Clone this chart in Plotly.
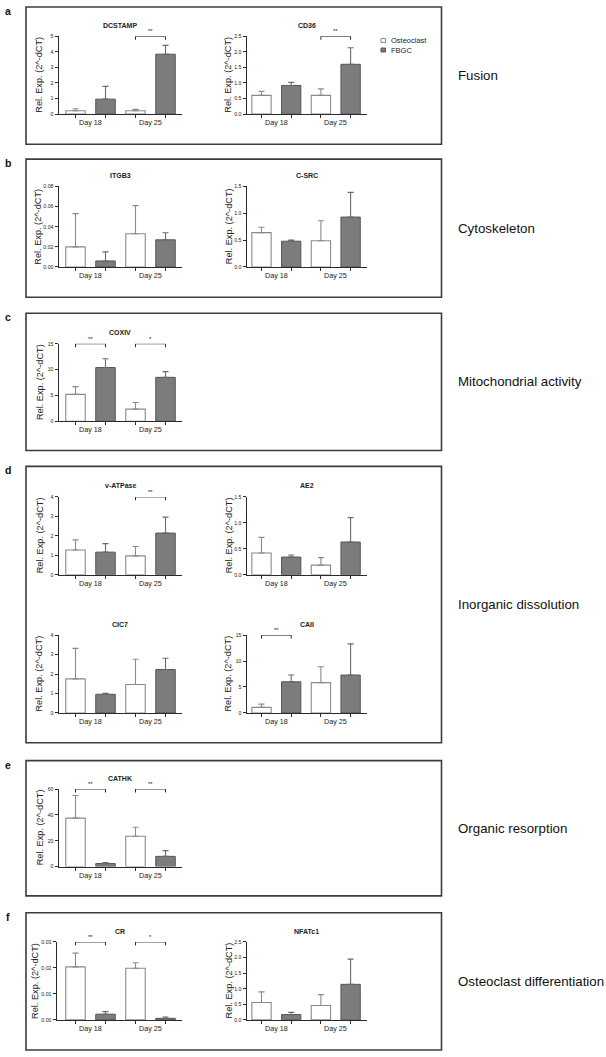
import plotly.graph_objects as go

W, H = 606, 1057
FONT = "Liberation Sans, Arial, sans-serif"

# ---------------- data ----------------
days = ["Day 18", "Day 25"]
groups = ["Osteoclast", "FBGC"]

dcstamp_osteo = [0.21, 0.21]
dcstamp_osteo_sd = [0.13, 0.09]
dcstamp_fbgc = [0.96, 3.85]
dcstamp_fbgc_sd = [0.82, 0.57]
dcstamp_ticks = [0, 1, 2, 3, 4, 5]
dcstamp_sig = ["", "**"]

cd36_osteo = [0.60, 0.60]
cd36_osteo_sd = [0.13, 0.21]
cd36_fbgc = [0.92, 1.60]
cd36_fbgc_sd = [0.10, 0.53]
cd36_ticks = [0.0, 0.5, 1.0, 1.5, 2.0, 2.5]
cd36_sig = ["", "**"]

itgb3_osteo = [0.020, 0.033]
itgb3_osteo_sd = [0.033, 0.028]
itgb3_fbgc = [0.006, 0.027]
itgb3_fbgc_sd = [0.009, 0.007]
itgb3_ticks = [0.00, 0.02, 0.04, 0.06, 0.08]
itgb3_sig = ["", ""]

csrc_osteo = [0.64, 0.49]
csrc_osteo_sd = [0.10, 0.37]
csrc_fbgc = [0.48, 0.93]
csrc_fbgc_sd = [0.02, 0.46]
csrc_ticks = [0.0, 0.5, 1.0, 1.5]
csrc_sig = ["", ""]

coxiv_osteo = [5.2, 2.35]
coxiv_osteo_sd = [1.5, 1.3]
coxiv_fbgc = [10.4, 8.5]
coxiv_fbgc_sd = [1.7, 1.1]
coxiv_ticks = [0, 5, 10, 15]
coxiv_sig = ["**", "*"]

vatpase_osteo = [1.27, 0.97]
vatpase_osteo_sd = [0.52, 0.48]
vatpase_fbgc = [1.16, 2.14]
vatpase_fbgc_sd = [0.44, 0.82]
vatpase_ticks = [0, 1, 2, 3, 4]
vatpase_sig = ["", "**"]

ae2_osteo = [0.42, 0.185]
ae2_osteo_sd = [0.30, 0.145]
ae2_fbgc = [0.34, 0.63]
ae2_fbgc_sd = [0.04, 0.47]
ae2_ticks = [0.0, 0.5, 1.0, 1.5]
ae2_sig = ["", ""]

cic7_osteo = [1.75, 1.46]
cic7_osteo_sd = [1.57, 1.30]
cic7_fbgc = [0.96, 2.23]
cic7_fbgc_sd = [0.05, 0.58]
cic7_ticks = [0, 1, 2, 3, 4]
cic7_sig = ["", ""]

caii_osteo = [1.08, 5.85]
caii_osteo_sd = [0.62, 3.05]
caii_fbgc = [6.0, 7.3]
caii_fbgc_sd = [1.3, 6.0]
caii_ticks = [0, 5, 10, 15]
caii_sig = ["**", ""]

cathk_osteo = [37.5, 23.5]
cathk_osteo_sd = [17.5, 6.9]
cathk_fbgc = [2.3, 7.9]
cathk_fbgc_sd = [0.8, 4.4]
cathk_ticks = [0, 20, 40, 60]
cathk_sig = ["**", "**"]

cr_osteo = [0.0204, 0.0199]
cr_osteo_sd = [0.0053, 0.0021]
cr_fbgc = [0.0022, 0.0006]
cr_fbgc_sd = [0.0010, 0.0005]
cr_ticks = [0.00, 0.01, 0.02, 0.03]
cr_sig = ["**", "*"]

nfatc1_osteo = [0.56, 0.46]
nfatc1_osteo_sd = [0.34, 0.35]
nfatc1_fbgc = [0.17, 1.14]
nfatc1_fbgc_sd = [0.07, 0.81]
nfatc1_ticks = [0.0, 0.5, 1.0, 1.5, 2.0, 2.5]
nfatc1_sig = ["", ""]

panel_letters = ["a", "b", "c", "d", "e", "f"]
panel_names = ["Fusion", "Cytoskeleton", "Mitochondrial activity",
               "Inorganic dissolution", "Organic resorption",
               "Osteoclast differentiation"]

# ---------------- layout (pixels) ----------------
panel_frames = [(4, 142), (157, 296), (312, 450), (466, 744), (762, 898), (915, 1053)]
FRAME_X = (26, 441.5)

charts = [
    dict(title="DCSTAMP", o=dcstamp_osteo, osd=dcstamp_osteo_sd, f=dcstamp_fbgc, fsd=dcstamp_fbgc_sd,
         ticks=dcstamp_ticks, fmt="{:.0f}", sig=dcstamp_sig, col="L", top=33.5, zero=111.7),
    dict(title="CD36", o=cd36_osteo, osd=cd36_osteo_sd, f=cd36_fbgc, fsd=cd36_fbgc_sd,
         ticks=cd36_ticks, fmt="{:.1f}", sig=cd36_sig, col="R", top=33.5, zero=111.7),
    dict(title="ITGB3", o=itgb3_osteo, osd=itgb3_osteo_sd, f=itgb3_fbgc, fsd=itgb3_fbgc_sd,
         ticks=itgb3_ticks, fmt="{:.2f}", sig=itgb3_sig, col="L", top=184.5, zero=265.5,
         ytitle_x=38.0),
    dict(title="C-SRC", o=csrc_osteo, osd=csrc_osteo_sd, f=csrc_fbgc, fsd=csrc_fbgc_sd,
         ticks=csrc_ticks, fmt="{:.1f}", sig=csrc_sig, col="R", top=184.5, zero=265.5),
    dict(title="COXIV", o=coxiv_osteo, osd=coxiv_osteo_sd, f=coxiv_fbgc, fsd=coxiv_fbgc_sd,
         ticks=coxiv_ticks, fmt="{:.0f}", sig=coxiv_sig, col="L", top=342.7, zero=420.7),
    dict(title="v-ATPase", o=vatpase_osteo, osd=vatpase_osteo_sd, f=vatpase_fbgc, fsd=vatpase_fbgc_sd,
         ticks=vatpase_ticks, fmt="{:.0f}", sig=vatpase_sig, col="L", top=496.7, zero=575),
    dict(title="AE2", o=ae2_osteo, osd=ae2_osteo_sd, f=ae2_fbgc, fsd=ae2_fbgc_sd,
         ticks=ae2_ticks, fmt="{:.1f}", sig=ae2_sig, col="R", top=496.7, zero=575),
    dict(title="CIC7", o=cic7_osteo, osd=cic7_osteo_sd, f=cic7_fbgc, fsd=cic7_fbgc_sd,
         ticks=cic7_ticks, fmt="{:.0f}", sig=cic7_sig, col="L", top=635.7, zero=714),
    dict(title="CAII", o=caii_osteo, osd=caii_osteo_sd, f=caii_fbgc, fsd=caii_fbgc_sd,
         ticks=caii_ticks, fmt="{:.0f}", sig=caii_sig, col="R", top=635.7, zero=714),
    dict(title="CATHK", o=cathk_osteo, osd=cathk_osteo_sd, f=cathk_fbgc, fsd=cathk_fbgc_sd,
         ticks=cathk_ticks, fmt="{:.0f}", sig=cathk_sig, col="L", top=790.5, zero=868.5),
    dict(title="CR", o=cr_osteo, osd=cr_osteo_sd, f=cr_fbgc, fsd=cr_fbgc_sd,
         ticks=cr_ticks, fmt="{:.2f}", sig=cr_sig, col="L", top=944.3, zero=1022.7,
         ax0=56.5, ytitle_x=35.0),
    dict(title="NFATc1", o=nfatc1_osteo, osd=nfatc1_osteo_sd, f=nfatc1_fbgc, fsd=nfatc1_fbgc_sd,
         ticks=nfatc1_ticks, fmt="{:.1f}", sig=nfatc1_sig, col="R", top=944.3, zero=1022.7),
]

COLS = {
    "L": dict(ax0=58.5, ax1=181.5, c0=75.5, step=30.0, ytitle_x=39.5),
    "R": dict(ax0=246.5, ax1=367.0, c0=261.5, step=29.7, ytitle_x=228.5),
}

def fx(p):
    return p / W

def fy(p):
    return 1 - p / H

OST_LINE = "#8a8a8a"
FB_FILL = "#7c7c7c"
FB_LINE = "#555555"
AX = "#2b2b2b"

fig = go.Figure()
annotations = []
shapes = []
layout_axes = {}

for k, ch in enumerate(charts, start=1):
    col = COLS[ch["col"]]
    ax0 = ch.get("ax0", col["ax0"])
    ax1 = col["ax1"]
    lo = (ax0 - col["c0"]) / col["step"]
    hi = (ax1 - col["c0"]) / col["step"]
    ymax = ch["ticks"][-1]
    xs_o = [2 * i for i in range(len(days))]
    xs_f = [2 * i + 1 for i in range(len(days))]
    xa, ya = f"x{k}", f"y{k}"
    fig.add_trace(go.Bar(
        x=xs_o, y=ch["o"], width=0.65, name=groups[0], showlegend=False,
        marker=dict(color="white", line=dict(color=OST_LINE, width=1.1)),
        error_y=dict(type="data", symmetric=False, array=ch["osd"], arrayminus=[0] * len(days),
                     color=OST_LINE, thickness=1.1, width=3),
        xaxis=xa, yaxis=ya, hoverinfo="skip"))
    fig.add_trace(go.Bar(
        x=xs_f, y=ch["f"], width=0.65, name=groups[1], showlegend=False,
        marker=dict(color=FB_FILL, line=dict(color=FB_LINE, width=1)),
        error_y=dict(type="data", symmetric=False, array=ch["fsd"], arrayminus=[0] * len(days),
                     color="#6a6a6a", thickness=1.1, width=3),
        xaxis=xa, yaxis=ya, hoverinfo="skip"))

    sfx = "" if k == 1 else str(k)
    layout_axes[f"xaxis{sfx}"] = dict(
        domain=[fx(ax0), fx(ax1)], range=[lo, hi], anchor=ya,
        showline=True, linecolor=AX, linewidth=1, mirror=False,
        tickvals=xs_o + xs_f, ticks="outside", ticklen=3, tickcolor=AX, tickwidth=1,
        showticklabels=False, showgrid=False, zeroline=False, fixedrange=True)
    layout_axes[f"yaxis{sfx}"] = dict(
        domain=[fy(ch["zero"]), fy(ch["top"])], range=[0, ymax], anchor=xa,
        showline=True, linecolor=AX, linewidth=1,
        tickvals=ch["ticks"], ticktext=[ch["fmt"].format(t) for t in ch["ticks"]],
        ticks="outside", ticklen=3, tickcolor=AX, tickwidth=1,
        tickfont=dict(size=5.2, color="#222", family=FONT),
        showgrid=False, zeroline=False, fixedrange=True)

    plot_h = ch["zero"] - ch["top"]
    # title
    annotations.append(dict(text=f"<b>{ch['title']}</b>", xref="paper", yref="paper",
                            x=fx((col["ax0"] + ax1) / 2),
                            y=fy(ch["top"] - 11), showarrow=False,
                            font=dict(size=7, color="#222", family=FONT),
                            xanchor="center", yanchor="middle"))
    # y title
    annotations.append(dict(text="Rel. Exp. (2^-dCT)", xref="paper", yref="paper",
                            x=fx(ch.get("ytitle_x", col["ytitle_x"])),
                            y=fy((ch["top"] + ch["zero"]) / 2),
                            textangle=-90, showarrow=False,
                            font=dict(size=9.2, color="#222", family=FONT),
                            xanchor="center", yanchor="middle"))
    # day labels
    for i, d in enumerate(days):
        annotations.append(dict(text=d, xref=xa, yref="paper", x=2 * i + 0.5,
                                y=fy(ch["zero"] + 8.5), showarrow=False,
                                font=dict(size=7.2, color="#222", family=FONT),
                                xanchor="center", yanchor="middle"))
    # significance brackets
    for i, s in enumerate(ch["sig"]):
        if not s:
            continue
        yd = ymax - ymax * 3.5 / plot_h
        shapes.append(dict(type="path", xref=xa, yref=ya,
                           path=f"M {2*i},{yd} L {2*i},{ymax} L {2*i+1},{ymax} L {2*i+1},{yd}",
                           line=dict(color=AX, width=1)))
        annotations.append(dict(text=s, xref=xa, yref=ya, x=2 * i + 0.5, y=ymax,
                                yshift=5, showarrow=False,
                                font=dict(size=6, color="#222", family=FONT),
                                xanchor="center", yanchor="middle"))

# frames, letters, right-side labels
for (t, b), letter, name in zip(panel_frames, panel_letters, panel_names):
    shapes.append(dict(type="rect", xref="paper", yref="paper",
                       x0=fx(FRAME_X[0]), x1=fx(FRAME_X[1]), y0=fy(b), y1=fy(t),
                       line=dict(color="#3c3c3c", width=1.6), fillcolor="rgba(0,0,0,0)"))
    annotations.append(dict(text=f"<b>{letter}</b>", xref="paper", yref="paper",
                            x=fx(7.5), y=fy(t + 4), showarrow=False,
                            font=dict(size=10.5, color="#111", family=FONT),
                            xanchor="center", yanchor="middle"))
    annotations.append(dict(text=name, xref="paper", yref="paper",
                            x=fx(456), y=fy((t + b) / 2), showarrow=False,
                            font=dict(size=13.3, color="#111", family=FONT),
                            xanchor="left", yanchor="middle"))

# legend (panel a)
legend_rows = [(37.7, "white", OST_LINE), (47.3, FB_FILL, FB_LINE)]
for (yc, fill, line), g in zip(legend_rows, groups):
    shapes.append(dict(type="rect", xref="paper", yref="paper",
                       x0=fx(381), x1=fx(385.5), y0=fy(yc + 2), y1=fy(yc - 2),
                       fillcolor=fill, line=dict(color=line, width=1)))
    annotations.append(dict(text=g, xref="paper", yref="paper", x=fx(389), y=fy(yc),
                            showarrow=False, font=dict(size=7.5, color="#222", family=FONT),
                            xanchor="left", yanchor="middle"))

fig.update_layout(
    width=W, height=H, margin=dict(l=0, r=0, t=0, b=0),
    paper_bgcolor="white", plot_bgcolor="white",
    barmode="overlay", showlegend=False,
    font=dict(family=FONT),
    annotations=annotations, shapes=shapes,
    **layout_axes)

fig.write_html("out.html",
               config={"displayModeBar": False, "staticPlot": True},
               post_script="document.body.style.margin='0px';document.body.style.overflow='hidden';")
